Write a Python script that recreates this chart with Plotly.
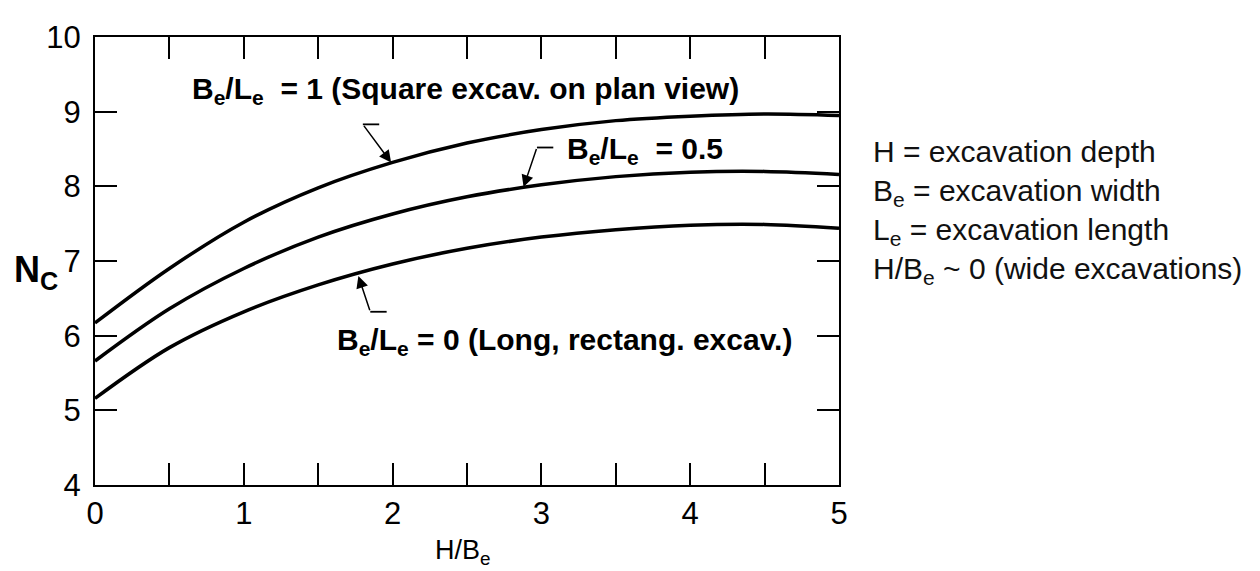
import plotly.graph_objects as go

# ---- data ----
h_over_b = [0, 0.5, 1.0, 1.5, 2.0, 2.5, 3.0, 3.5, 4.0, 4.5, 5.0]
nc_square = [6.17, 6.90, 7.52, 7.98, 8.32, 8.58, 8.76, 8.88, 8.94, 8.97, 8.95]   # Be/Le = 1
nc_half = [5.66, 6.36, 6.90, 7.32, 7.63, 7.86, 8.02, 8.13, 8.19, 8.20, 8.16]     # Be/Le = 0.5
nc_long = [5.16, 5.84, 6.32, 6.68, 6.96, 7.17, 7.32, 7.42, 7.48, 7.49, 7.44]     # Be/Le = 0

x_ticks = [0, 1, 2, 3, 4, 5]
y_ticks = [4, 5, 6, 7, 8, 9, 10]

series = [
    ("B<sub>e</sub>/L<sub>e</sub> = 1", nc_square),
    ("B<sub>e</sub>/L<sub>e</sub> = 0.5", nc_half),
    ("B<sub>e</sub>/L<sub>e</sub> = 0", nc_long),
]

fig = go.Figure()
for name, ys in series:
    fig.add_trace(go.Scatter(
        x=h_over_b, y=ys, mode="lines", name=name,
        line=dict(color="black", width=3.5, shape="spline", smoothing=1.0),
        showlegend=False,
    ))

SANS = "Liberation Sans, Arial, Helvetica, sans-serif"
TICKFONT = dict(family=SANS, size=31, color="black")
BOLD = dict(family=SANS, size=30, color="black")
REG = dict(family=SANS, size=30, color="#111")

fig.update_layout(
    width=1260, height=571,
    margin=dict(l=87, r=429, t=14, b=94),
    paper_bgcolor="white", plot_bgcolor="white",
    xaxis=dict(
        range=[0, 5], tickvals=x_ticks, ticktext=[str(v) for v in x_ticks],
        ticks="inside", ticklen=22, tickwidth=2, tickcolor="black",
        minor=dict(dtick=0.5, ticks="inside", ticklen=22, tickwidth=2, tickcolor="black"),
        showline=True, linecolor="black", linewidth=2, mirror="ticks",
        showgrid=False, zeroline=False, tickfont=TICKFONT, ticklabelstandoff=0,
        ticklabeloverflow="allow",
    ),
    yaxis=dict(
        range=[4, 10], tickvals=y_ticks, ticktext=[str(v) for v in y_ticks],
        ticks="inside", ticklen=22, tickwidth=2, tickcolor="black",
        showline=True, linecolor="black", linewidth=2, mirror="ticks",
        showgrid=False, zeroline=False, tickfont=TICKFONT, ticklabelstandoff=6,
        ticklabeloverflow="allow",
    ),
)

# axis titles
fig.add_annotation(xref="paper", yref="paper", x=0.495, y=-0.15, yanchor="middle",
                   text="H/B<sub>e</sub>", showarrow=False,
                   font=dict(family=SANS, size=27, color="black"))
fig.add_annotation(xref="paper", yref="y", x=-0.112, y=6.85, xanchor="left", yanchor="middle",
                   text="<b>N<sub>C</sub></b>", showarrow=False,
                   font=dict(family=SANS, size=36, color="black"))

# curve labels
fig.add_annotation(x=0.64, y=9.29, xanchor="left", yanchor="middle", showarrow=False,
                   text="<b>B<sub>e</sub>/L<sub>e</sub>  = 1 (Square excav. on plan view)</b>", font=BOLD)
fig.add_annotation(x=3.16, y=8.48, xanchor="left", yanchor="middle", showarrow=False,
                   text="<b>B<sub>e</sub>/L<sub>e</sub>  = 0.5</b>", font=BOLD)
fig.add_annotation(x=1.61, y=5.92, xanchor="left", yanchor="middle", showarrow=False,
                   text="<b>B<sub>e</sub>/L<sub>e</sub> = 0 (Long, rectang. excav.)</b>", font=BOLD)

# leader arrows (tip on curve, tail at bend) + short horizontal stubs
leaders = [
    # tip x, tip y, bend x, bend y, stub end x
    (1.99, 8.32, 1.80, 8.83, 1.91),
    (2.88, 7.99, 2.97, 8.52, 3.08),
    (1.77, 6.80, 1.85, 6.32, 1.96),
]
for tx, ty, bx, by, sx in leaders:
    fig.add_annotation(x=tx, y=ty, ax=bx, ay=by, axref="x", ayref="y",
                       text="", showarrow=True, arrowhead=2, arrowsize=1.6,
                       arrowwidth=1.5, arrowcolor="black")
    fig.add_shape(type="line", x0=bx, y0=by, x1=sx, y1=by, xref="x", yref="y",
                  line=dict(color="black", width=1.8))

# side notes
notes = [
    "H = excavation depth",
    "B<sub>e</sub> = excavation width",
    "L<sub>e</sub> = excavation length",
    "H/B<sub>e</sub> ~ 0 (wide excavations)",
]
fig.add_annotation(xref="paper", yref="y", x=1.043, y=7.65, xanchor="left", yanchor="middle",
                   align="left", showarrow=False, text="<br>".join(notes),
                   font=REG)

fig.write_html("out.html")
